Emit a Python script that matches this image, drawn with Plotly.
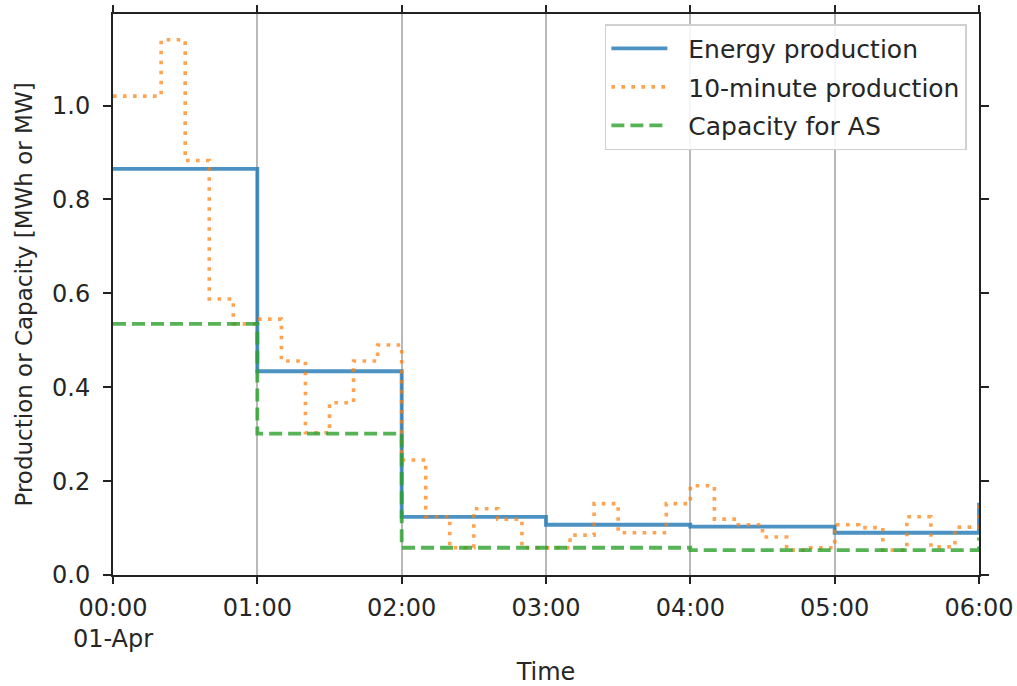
import plotly.graph_objects as go
import pandas as pd

# ---- data ----
hour_times = pd.date_range("2021-04-01 00:00", periods=7, freq="h")
ten_min_times = pd.date_range("2021-04-01 00:00", periods=37, freq="10min")

energy_production = [0.865, 0.434, 0.124, 0.107, 0.103, 0.090, 0.154]
capacity_for_as = [0.535, 0.301, 0.058, 0.058, 0.053, 0.053, 0.080]
ten_minute_production = [
    1.02, 1.02, 1.14, 0.883, 0.588, 0.535,
    0.545, 0.456, 0.303, 0.367, 0.456, 0.490,
    0.245, 0.124, 0.058, 0.141, 0.119, 0.058,
    0.058, 0.085, 0.152, 0.090, 0.090, 0.152,
    0.190, 0.119, 0.107, 0.081, 0.053, 0.058,
    0.107, 0.101, 0.053, 0.124, 0.060, 0.102,
    0.150,
]
series_names = ["Energy production", "10-minute production", "Capacity for AS"]
x_tick_labels = ["00:00<br>01-Apr", "01:00", "02:00", "03:00", "04:00", "05:00", "06:00"]
y_tick_values = [0.0, 0.2, 0.4, 0.6, 0.8, 1.0]
y_tick_labels = ["0.0", "0.2", "0.4", "0.6", "0.8", "1.0"]

FONT = "DejaVu Sans"
TXT = "#262626"
PAD = "\u00a0\u00a0"  # visual gap between legend line sample and label

fig = go.Figure()
fig.add_trace(go.Scatter(
    x=hour_times, y=energy_production, mode="lines", name=PAD + series_names[0],
    line=dict(shape="hv", color="rgba(31,119,180,0.8)", width=3.8),
    legendgroup="a"))
fig.add_trace(go.Scatter(
    x=ten_min_times, y=ten_minute_production, mode="lines", name=PAD + series_names[1],
    line=dict(shape="hv", color="rgba(255,127,14,0.72)", width=3.6, dash="3.6px,6.4px"),
    legendgroup="b"))
fig.add_trace(go.Scatter(
    x=hour_times, y=capacity_for_as, mode="lines", name=PAD + series_names[2],
    line=dict(shape="hv", color="rgba(44,160,44,0.8)", width=3.8, dash="13px,6px"),
    legendgroup="c"))

fig.update_layout(
    width=1017, height=686,
    margin=dict(l=113, r=38, t=14, b=111, autoexpand=False),
    paper_bgcolor="white", plot_bgcolor="white",
    font=dict(family=FONT, size=24, color=TXT),
    showlegend=True,
    legend=dict(
        x=0.986, y=0.982, xanchor="right", yanchor="top",
        bgcolor="rgba(255,255,255,0.85)", bordercolor="#d0d0d0", borderwidth=1.5,
        font=dict(family=FONT, size=25, color=TXT),
        traceorder="grouped", tracegroupgap=3, itemwidth=56,
    ),
    xaxis=dict(
        range=[hour_times[0], hour_times[-1]],
        tickmode="array", tickvals=hour_times, ticktext=x_tick_labels,
        ticks="outside", ticklen=7, tickwidth=1.5, tickcolor="#222",
        showline=True, linecolor="#222", linewidth=2, mirror="ticks",
        showgrid=True, gridcolor="#b8b8b8", gridwidth=1.5,
        zeroline=False, automargin=False, ticklabelstandoff=3,
        title=dict(text="Time", font=dict(family=FONT, size=24, color=TXT), standoff=17),
        tickfont=dict(family=FONT, size=24, color=TXT),
    ),
    yaxis=dict(
        range=[0, 1.195],
        tickmode="array", tickvals=y_tick_values, ticktext=y_tick_labels,
        ticks="outside", ticklen=8, tickwidth=1.5, tickcolor="#222",
        showline=True, linecolor="#222", linewidth=2, mirror="ticks",
        showgrid=False, zeroline=False, automargin=False, ticklabelstandoff=8,
        title=dict(text="Production or Capacity [MWh or MW]",
                   font=dict(family=FONT, size=23, color=TXT), standoff=13),
        tickfont=dict(family=FONT, size=24, color=TXT),
    ),
)

fig.write_html("out.html")
